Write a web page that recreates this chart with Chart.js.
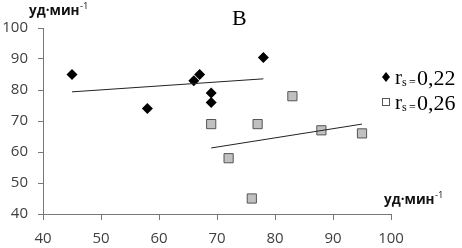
<!DOCTYPE html>
<html><head><meta charset="utf-8">
<script src="https://cdn.jsdelivr.net/npm/chart.js@4"></script>
<style>html,body{margin:0;padding:0;background:#fff}#wrap{width:462px;height:248px;position:relative}</style>
</head><body><div id="wrap"><canvas id="c" width="462" height="248"></canvas></div>
<script>
// Data
const diamondX = [45, 58, 66, 67, 69, 69, 78];
const diamondY = [85, 74, 83, 85, 79, 76, 90.5];
const squareX = [69, 72, 76, 77, 83, 88, 95];
const squareY = [69, 58, 45, 69, 78, 67, 66];
const trendAX = [45, 78];
const trendAY = [79.4, 83.6];
const trendBX = [69, 95];
const trendBY = [61.3, 69.0];
const xTicks = [40, 50, 60, 70, 80, 90, 100];
const yTicks = [40, 50, 60, 70, 80, 90, 100];
const titleText = 'В';
const unitText = 'уд·мин';
const legendLabels = ['0,22', '0,26'];

const pts = (xs, ys) => xs.map((x, i) => ({x, y: ys[i]}));

const overlay = {
  id: 'overlay',
  afterDraw(chart) {
    const ctx = chart.ctx;
    ctx.save();
    // title
    ctx.fillStyle = '#000';
    ctx.font = '22px "Liberation Serif"';
    ctx.textBaseline = 'alphabetic';
    ctx.textAlign = 'left';
    ctx.fillText(titleText, 232, 25);
    // unit labels
    const unit = (x, yBase) => {
      ctx.font = 'bold 13.5px "Open Sans"';
      ctx.fillStyle = '#111';
      ctx.fillText(unitText, x, yBase);
      const w = ctx.measureText(unitText).width;
      ctx.font = '9.5px "Open Sans"';
      ctx.fillText('-1', w + x + 0.5, yBase - 6);
    };
    unit(29, 15);
    unit(384, 204);
    // legend
    const row = (y, label, isDiamond) => {
      if (isDiamond) {
        ctx.fillStyle = '#000';
        ctx.beginPath();
        ctx.moveTo(386, y - 5); ctx.lineTo(390, y); ctx.lineTo(386, y + 5); ctx.lineTo(382, y);
        ctx.closePath(); ctx.fill();
      } else {
        ctx.strokeStyle = '#555'; ctx.lineWidth = 1;
        ctx.fillStyle = '#fff';
        ctx.fillRect(382.5, y - 3.5, 7, 7);
        ctx.strokeRect(382.5, y - 3.5, 7, 7);
      }
      ctx.fillStyle = '#000';
      ctx.font = '21px "Liberation Serif"';
      ctx.fillText('r', 395, y + 7);
      ctx.font = '12px "Liberation Serif"';
      ctx.fillText('s', 402, y + 9);
      ctx.fillText('=', 409, y + 9);
      ctx.font = '22px "Liberation Serif"';
      ctx.fillText(label, 417, y + 8);
    };
    row(77, legendLabels[0], true);
    row(102, legendLabels[1], false);
    ctx.restore();
  }
};

const tickFont = {family: '"Open Sans"', size: 15};
new Chart(document.getElementById('c'), {
  type: 'scatter',
  data: {
    datasets: [
      {data: pts(trendAX, trendAY), showLine: true, borderColor: '#222', borderWidth: 1, pointRadius: 0},
      {data: pts(trendBX, trendBY), showLine: true, borderColor: '#222', borderWidth: 1, pointRadius: 0},
      {data: pts(diamondX, diamondY), pointStyle: 'rectRot', pointRadius: 5.5, backgroundColor: '#000', borderColor: '#000', borderWidth: 0},
      {data: pts(squareX, squareY), pointStyle: 'rect', pointRadius: 6.5, backgroundColor: '#c0c0c0', borderColor: '#555', borderWidth: 1}
    ]
  },
  options: {
    responsive: false, animation: false,
    layout: {padding: {left: 0, top: 28, right: 71, bottom: 0}},
    plugins: {legend: {display: false}, tooltip: {enabled: false}},
    scales: {
      x: {
        type: 'linear', min: 40, max: 100,
        afterBuildTicks: s => { s.ticks = xTicks.map(v => ({value: v})); },
        afterFit: s => { s.height = 34; },
        grid: {drawOnChartArea: false, drawTicks: true, tickLength: 6, color: '#777'},
        border: {display: true, color: '#777', width: 1},
        ticks: {font: tickFont, color: '#404040', padding: 10, maxRotation: 0}
      },
      y: {
        type: 'linear', min: 40, max: 100,
        afterBuildTicks: s => { s.ticks = yTicks.map(v => ({value: v})); },
        afterFit: s => { s.width = 43; },
        grid: {drawOnChartArea: false, drawTicks: true, tickLength: 5, color: '#777'},
        border: {display: true, color: '#777', width: 1},
        ticks: {font: tickFont, color: '#404040', padding: 10}
      }
    }
  },
  plugins: [overlay]
});
</script></body></html>
